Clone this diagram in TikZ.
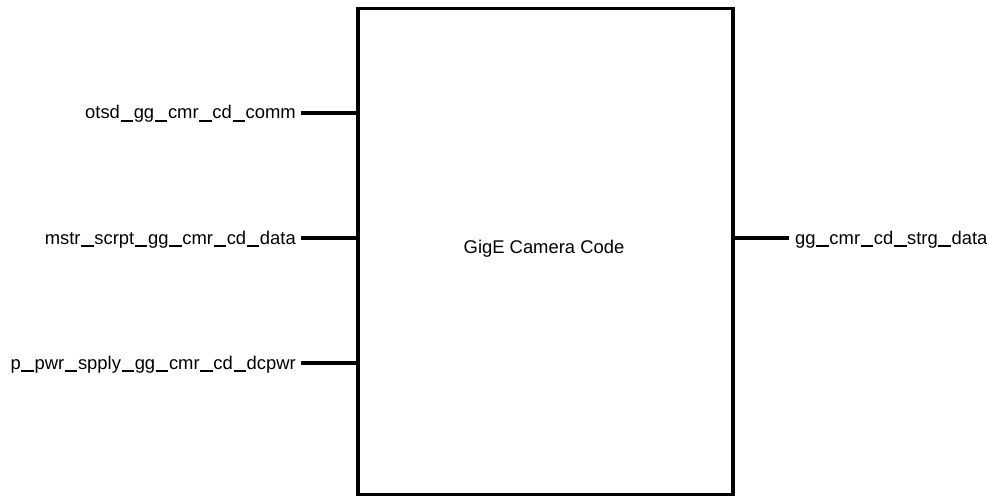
\documentclass[tikz,border=0pt]{standalone}
\usepackage{fontspec}
\setmainfont{Liberation Sans}
% wide underscore used in the port names
\newcommand\portus{\kern0.6pt\rule[-2.6pt]{12.6pt}{1.4pt}\kern0.6pt}
\begin{document}
\begin{tikzpicture}[x=1pt,y=-1pt,
  wire/.style={line width=3.2pt},
  portlabel/.style={inner sep=0pt,font=\fontsize{18.4}{20}\selectfont},
  block/.style={draw,line width=3.2pt,minimum width=375pt,minimum height=486pt,inner sep=0pt}]
  \useasboundingbox (0,0) rectangle (987,497);
  % component block
  \node[block] (code) at (545.5,251.5) {};
  \node[portlabel,anchor=base] (title) at (544,253) {GigE Camera Code};
  % port stubs on the block
  \coordinate (in1) at (358,113);
  \coordinate (in2) at (358,238);
  \coordinate (in3) at (358,363);
  \coordinate (out1) at (733,238);
  \coordinate (in1e) at (301,113);
  \coordinate (in2e) at (301,238);
  \coordinate (in3e) at (301,363);
  \coordinate (out1e) at (789,238);
  \draw[wire] (in1e) -- (in1);
  \draw[wire] (in2e) -- (in2);
  \draw[wire] (in3e) -- (in3);
  \draw[wire] (out1) -- (out1e);
  % port names
  \node[portlabel,anchor=base east] (l1) at (296,119) {otsd\portus gg\portus cmr\portus cd\portus comm};
  \node[portlabel,anchor=base east] (l2) at (296,244) {mstr\portus scrpt\portus gg\portus cmr\portus cd\portus data};
  \node[portlabel,anchor=base east] (l3) at (296,369) {p\portus pwr\portus spply\portus gg\portus cmr\portus cd\portus dcpwr};
  \node[portlabel,anchor=base west] (r1) at (795,244) {gg\portus cmr\portus cd\portus strg\portus data};
\end{tikzpicture}
\end{document}
